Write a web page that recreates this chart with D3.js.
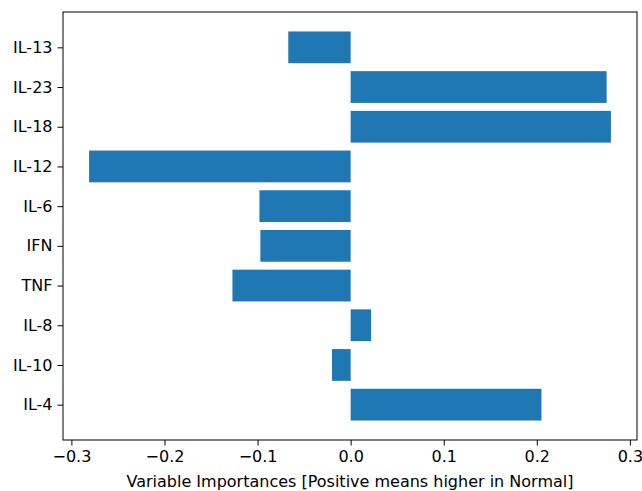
<!DOCTYPE html>
<html>
<head>
<meta charset="utf-8">
<script src="https://cdn.jsdelivr.net/npm/d3@7"></script>
<style>
  body { margin: 0; background: #fff; }
  svg text { font-family: "DejaVu Sans", sans-serif; fill: #000; }
</style>
</head>
<body>
<div id="chart"></div>
<script>
// Data, bottom to top as plotted
const categories = ["IL-4", "IL-10", "IL-8", "TNF", "IFN", "IL-6", "IL-12", "IL-18", "IL-23", "IL-13"];
const importances = [0.205, -0.020, 0.022, -0.127, -0.097, -0.098, -0.281, 0.2796, 0.275, -0.067];
const xTicks = [-0.3, -0.2, -0.1, 0.0, 0.1, 0.2, 0.3];
const xLabel = "Variable Importances [Positive means higher in Normal]";

const config = {
  width: 642,
  height: 491,
  margin: { top: 12, right: 5, bottom: 51, left: 63 },
  barColor: "#1f77b4",
  fontSize: 16
};

const width = config.width - config.margin.left - config.margin.right;
const height = config.height - config.margin.top - config.margin.bottom;

// matplotlib-style 5% margins around the data
const xMin = d3.min(importances.concat([0])), xMax = d3.max(importances.concat([0]));
const xPad = (xMax - xMin) * 0.05;
const xScale = d3.scaleLinear().domain([xMin - xPad, xMax + xPad]).range([0, width]);

const yLo = -0.4, yHi = categories.length - 1 + 0.4;
const yPad = (yHi - yLo) * 0.05;
const yScale = d3.scaleLinear().domain([yLo - yPad, yHi + yPad]).range([height, 0]);
const barH = yScale(0) - yScale(0.8);

const svg = d3.select("#chart").append("svg")
  .attr("width", config.width)
  .attr("height", config.height);

const g = svg.append("g")
  .attr("transform", `translate(${config.margin.left},${config.margin.top})`);

// Bars
g.selectAll(".bar")
  .data(importances)
  .join("rect")
  .attr("class", "bar")
  .attr("x", d => xScale(Math.min(0, d)))
  .attr("width", d => Math.abs(xScale(d) - xScale(0)))
  .attr("y", (d, i) => yScale(i + 0.4))
  .attr("height", barH)
  .attr("fill", config.barColor);

// Axes
const xAxis = d3.axisBottom(xScale)
  .tickValues(xTicks)
  .tickFormat(d => d3.format(".1f")(d).replace("-", "\u2212"))
  .tickSize(5.5)
  .tickPadding(5);

const yAxis = d3.axisLeft(yScale)
  .tickValues(d3.range(categories.length))
  .tickFormat(i => categories[i])
  .tickSize(5.5)
  .tickPadding(5);

const xAxisG = g.append("g")
  .attr("transform", `translate(0,${height})`)
  .call(xAxis);

const yAxisG = g.append("g").call(yAxis);

[xAxisG, yAxisG].forEach(a => {
  a.attr("font-size", null).attr("font-family", null);
  a.select(".domain").remove();
  a.selectAll("line").attr("stroke", "#000").attr("stroke-width", 1);
  a.selectAll("text").style("font-size", config.fontSize + "px").attr("fill", "#000");
});

// Frame
g.append("rect")
  .attr("width", width)
  .attr("height", height)
  .attr("fill", "none")
  .attr("stroke", "#000")
  .attr("stroke-width", 1);

// Axis label
g.append("text")
  .attr("x", width / 2)
  .attr("y", height + 47)
  .attr("text-anchor", "middle")
  .style("font-size", config.fontSize + "px")
  .text(xLabel);
</script>
</body>
</html>
